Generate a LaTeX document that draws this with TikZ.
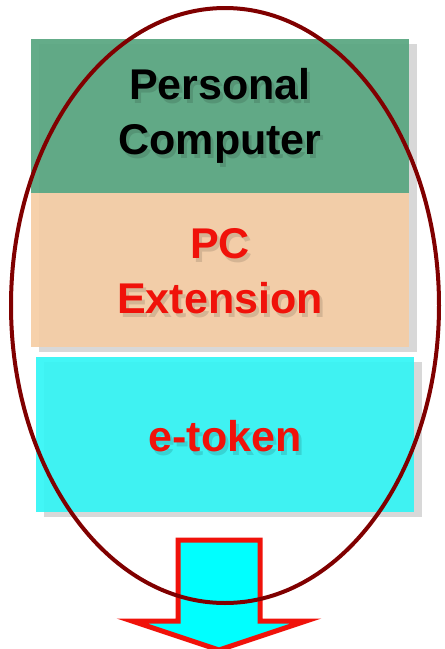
\documentclass[tikz,border=0pt]{standalone}
\usepackage{fontspec}
\setmainfont{Liberation Sans}
\usetikzlibrary{shadows}
\definecolor{pcgreen}{RGB}{88,166,128}
\definecolor{peach}{RGB}{245,205,165}
\definecolor{tokcyan}{RGB}{52,245,245}
\definecolor{arrcyan}{RGB}{0,255,255}
\definecolor{ellred}{RGB}{128,0,0}
\definecolor{txtred}{RGB}{240,18,10}
\definecolor{shadowgray}{RGB}{216,216,216}
\begin{document}
\begin{tikzpicture}[x=1pt,y=-1pt,
  layer/.style={rectangle, minimum width=378pt, minimum height=154pt, inner sep=0pt,
    fill opacity=0.93, draw=none,
    drop shadow={shadow xshift=8pt, shadow yshift=-5pt, fill=shadowgray, opacity=1}},
  lbl/.style={align=center, inner sep=0pt,
    font=\fontsize{43}{55}\selectfont\bfseries},
  lblshadow/.style={lbl, text opacity=0.12, text=black}
]
\useasboundingbox (0,0) rectangle (445,649);
% layers
\node[layer, fill=pcgreen] (pc) at (220,116) {};
\node[layer, fill=peach] (ext) at (220,270) {};
\node[layer, fill=tokcyan, minimum height=155pt] (tok) at (225,434.5) {};
% text shadows
\node[lblshadow] at ([xshift=3pt,yshift=-4pt]pc.center) {Personal\\Computer};
\node[lblshadow] at ([xshift=3pt,yshift=-5pt]ext.center) {PC\\Extension};
\node[lblshadow] at ([xshift=3pt,yshift=-6pt]tok.center) {e-token};
% texts
\node[lbl, text=black] (pct) at (pc.center) {Personal\\Computer};
\node[lbl, text=txtred] (extt) at ([yshift=-1pt]ext.center) {PC\\Extension};
\node[lbl, text=txtred] (tokt) at ([yshift=-2pt]tok.center) {e-token};
% arrow
\draw[draw=txtred, fill=arrcyan, line width=5pt, miter limit=10]
  (178,540) -- (260,540) -- (260,621) -- (306,621) -- (219,650) -- (132,621) -- (178,621) -- cycle;
% ellipse
\draw[ellred, line width=4pt] (225,305.5) ellipse [x radius=214, y radius=297.5];
\end{tikzpicture}
\end{document}
